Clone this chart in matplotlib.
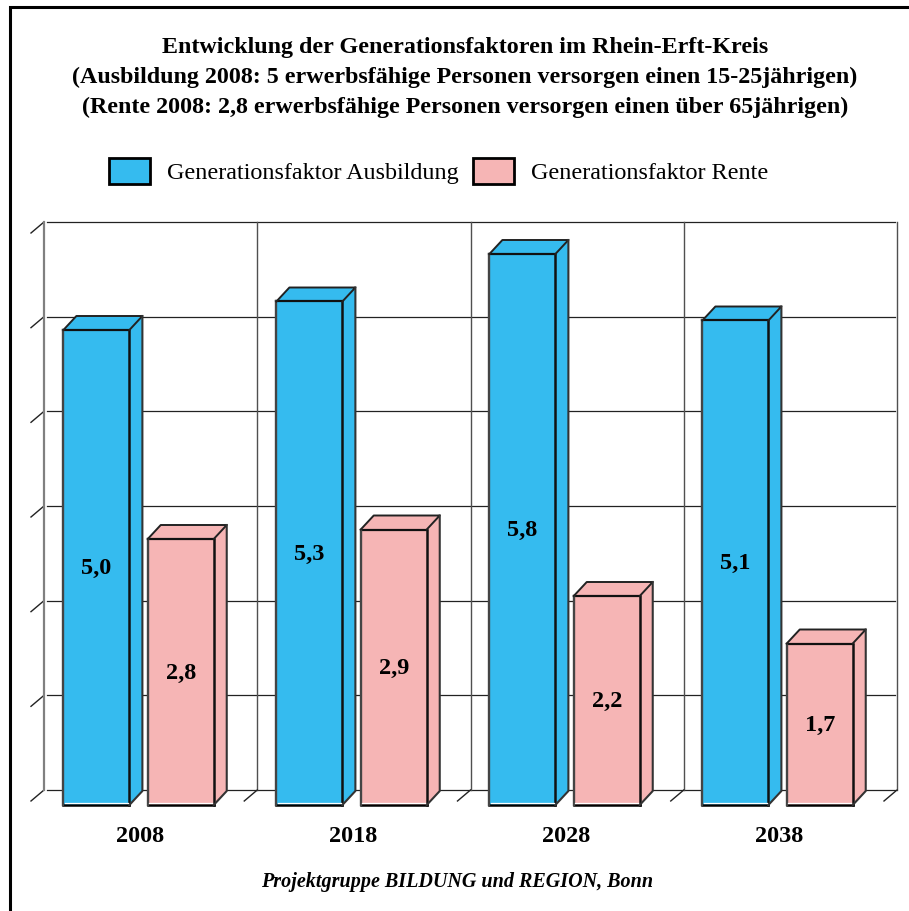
import matplotlib
matplotlib.use("Agg")
import matplotlib.pyplot as plt
from matplotlib.patches import Patch, Polygon
from matplotlib.lines import Line2D

years = ["2008", "2018", "2028", "2038"]
ausbildung = [5.0, 5.3, 5.8, 5.1]
rente = [2.8, 2.9, 2.2, 1.7]
wall_ticks = [0, 1, 2, 3, 4, 5, 6]
title_lines = [
    "Entwicklung der Generationsfaktoren im Rhein-Erft-Kreis",
    "(Ausbildung 2008: 5 erwerbsfähige Personen versorgen einen 15-25jährigen)",
    "(Rente 2008: 2,8 erwerbsfähige Personen versorgen einen über 65jährigen)",
]
legend_labels = ["Generationsfaktor Ausbildung", "Generationsfaktor Rente"]
source = "Projektgruppe BILDUNG und REGION, Bonn"

BLUE = "#35BBEF"
PINK = "#F6B5B5"
W, H = 909, 911
plt.rcParams["font.family"] = ["Liberation Serif", "DejaVu Serif"]
fig = plt.figure(figsize=(W / 100, H / 100), dpi=100, facecolor="white")


def box(l, t, r, b):
    return [l / W, 1 - b / H, (r - l) / W, (b - t) / H]


# frame (left and top only)
fig.add_artist(Line2D([10 / W, 10 / W, 1], [0, 1 - 7 / H, 1 - 7 / H], color="black", lw=2.2,
                      transform=fig.transFigure, solid_joinstyle="miter"))

# back wall
wall = fig.add_axes(box(44, 222, 897, 790), facecolor="none")
wall.set_xlim(0, 4)
wall.set_ylim(0, 6)
wall.set_xticks([])
wall.set_yticks([])
for s in wall.spines.values():
    s.set_visible(False)
dxw, dyw = 13 / 213.25, 11 / 94.67
for v in wall_ticks:
    wall.plot([0.015, 3.99], [v, v], color="#222222", lw=0.9, zorder=2, clip_on=False)
    wall.plot([0, -dxw], [v, v - dyw], color="#222222", lw=1.0, zorder=2, clip_on=False)
wall.plot([0, 0], [0, 6], color="#808080", lw=1.6, zorder=2, clip_on=False)
for i in range(1, 5):
    wall.plot([i, i], [0, 6], color="#505050", lw=1.0, zorder=2, clip_on=False)
    wall.plot([i, i - dxw], [0, -dyw], color="#222222", lw=1.0, zorder=2, clip_on=False)

# bars (front plane); x in groups, y in value units
ax = fig.add_axes(box(31, 235, 883, 805), facecolor="none")
ax.set_xlim(0, 4)
ax.set_ylim(0, 6)
for s in ax.spines.values():
    s.set_visible(False)
ax.set_yticks([])
ax.set_xticks([i + 0.51 for i in range(4)])
ax.set_xticklabels(years, fontsize=17.5, fontweight="bold")
ax.tick_params(axis="x", length=0, pad=15)

bw = 66 / 213
dx, dy = 13 / 213, 14 / 95
offsets = [0.307, 0.703]


def bar3d(x, v, color):
    l, r = x - bw / 2, x + bw / 2
    ax.bar(x, v, width=bw, color=color, edgecolor="none", zorder=5)
    ax.add_patch(Polygon([(l, v), (l + dx, v + dy), (r + dx, v + dy), (r, v)],
                         facecolor=color, edgecolor="none", zorder=4))
    ax.add_patch(Polygon([(r, 0), (r + dx, dy), (r + dx, v + dy), (r, v)],
                         facecolor=color, edgecolor="none", zorder=4))
    k = dict(zorder=6, clip_on=False, solid_capstyle="projecting")
    ax.plot([l, r], [0, 0], color="black", lw=1.8, **k)
    ax.plot([l, r], [v, v], color="#111111", lw=1.6, **k)
    ax.plot([l, l], [0, v], color="#444444", lw=1.7, **k)
    ax.plot([r, r], [0, v], color="#111111", lw=1.8, **k)
    ax.plot([l, l + dx, r + dx, r], [v, v + dy, v + dy, v], color="#222222", lw=1.4, **k)
    ax.plot([r, r + dx, r + dx], [0, dy, v + dy], color="#333333", lw=1.5, **k)
    ax.plot([l + 0.006, r - 0.006], [0.02, 0.02], color="white", lw=0.9, zorder=6)
    ax.annotate(f"{v:.1f}".replace(".", ","), (x, v / 2), xytext=(0, -1), textcoords="offset pixels",
                ha="center", va="center", fontsize=17.5, fontweight="bold", color="black", zorder=7)


for i in range(4):
    bar3d(i + offsets[0], ausbildung[i], BLUE)
    bar3d(i + offsets[1], rente[i], PINK)

# title
for line, y in zip(title_lines, [46, 76, 106]):
    fig.text(465 / W, 1 - (y + 1.5) / H, line, ha="center", va="center", fontsize=17.3, fontweight="bold")

# legend
handles = [Patch(facecolor=BLUE, edgecolor="black", lw=2), Patch(facecolor=PINK, edgecolor="black", lw=2)]
fig.legend(handles, legend_labels, loc="center left", bbox_to_anchor=(109 / W, 1 - 171 / H), ncol=2,
           frameon=False, fontsize=17.4, handlelength=1.68, handleheight=1.32, handletextpad=0.72,
           columnspacing=0.6, borderpad=0, borderaxespad=0)

fig.text(457 / W, 1 - 882 / H, source, ha="center", va="center", fontsize=14.5,
         fontweight="bold", fontstyle="italic")

fig.savefig("out.png", dpi=100)
